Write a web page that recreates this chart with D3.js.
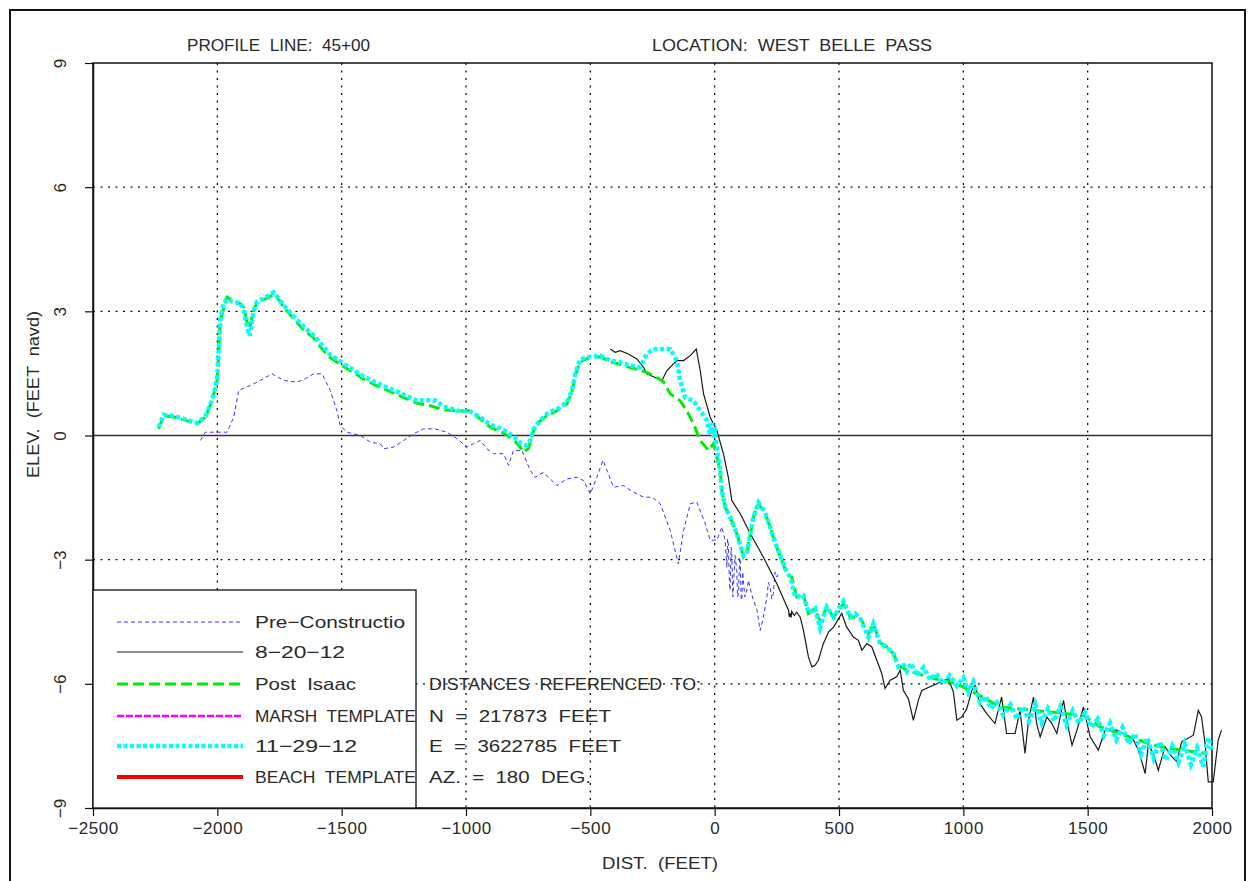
<!DOCTYPE html>
<html>
<head>
<meta charset="utf-8">
<script src="https://cdn.jsdelivr.net/npm/d3@7"></script>
<style>
  body { margin: 0; background: #fff; }
  text { font-family: "Liberation Sans", Arial, sans-serif; fill: #2a2a2a; }
</style>
</head>
<body>
<div id="chart"></div>
<script>
// profile survey data: [distance (ft), elevation (ft navd)]
var preConstruction = [[-2068,-0.12],[-2048,0.08],[-1961,0.08],[-1934,0.44],[-1914,1.09],[-1867,1.21],[-1827,1.33],[-1780,1.49],[-1733,1.33],[-1680,1.29],[-1646,1.37],[-1613,1.49],[-1579,1.49],[-1546,1.09],[-1519,0.6],[-1506,0.24],[-1479,0.08],[-1425,0],[-1385,-0.16],[-1345,-0.2],[-1331,-0.32],[-1291,-0.28],[-1251,-0.12],[-1211,0.04],[-1171,0.16],[-1124,0.16],[-1077,0.08],[-1036,-0.08],[-996,-0.28],[-970,-0.2],[-943,-0.12],[-916,-0.32],[-889,-0.44],[-849,-0.44],[-829,-0.72],[-809,-0.36],[-775,-0.36],[-742,-0.84],[-722,-1.01],[-688,-0.89],[-634,-1.21],[-594,-1.05],[-554,-1.01],[-527,-1.09],[-500,-1.41],[-474,-1.01],[-449,-0.6],[-433,-0.84],[-407,-1.25],[-367,-1.21],[-326,-1.37],[-286,-1.49],[-252,-1.49],[-219,-1.65],[-179,-2.29],[-146,-3.1],[-125,-2.29],[-98,-1.65],[-72,-1.61],[-38,-2.13],[-18,-2.53],[9,-2.53],[29,-2.21],[42,-2.53],[49,-3.18],[52,-2.5],[55,-2.61],[59,-3.5],[62,-3.74],[66,-2.7],[69,-2.86],[73,-3.9],[76,-3.58],[82,-2.9],[89,-3.26],[92,-3.9],[96,-3.82],[100,-2.95],[103,-3.02],[106,-3.9],[109,-3.98],[113,-3.3],[116,-3.58],[122,-3.9],[129,-3.74],[136,-3.5],[143,-3.7],[156,-3.98],[170,-4.22],[183,-4.71],[196,-4.39],[210,-3.9],[216,-3.55],[223,-3.66],[230,-3.95],[236,-3.82],[243,-3.3],[250,-3.42],[256,-3.34]];

var survey082012 = [[-420,2.09],[-400,2.01],[-380,2.05],[-347,1.97],[-313,1.85],[-286,1.65],[-273,1.49],[-212,1.33],[-192,1.57],[-166,1.73],[-152,1.81],[-125,1.81],[-98,1.93],[-74,2.09],[-58,1.57],[-45,1.01],[-18,0.44],[9,0.12],[35,-0.44],[55,-1.01],[69,-1.57],[103,-1.89],[143,-2.37],[196,-2.94],[250,-3.58],[297,-4.22],[300,-4.38],[304,-4.3],[307,-4.4],[310,-4.25],[320,-4.35],[330,-4.27],[344,-4.39],[357,-4.71],[377,-5.35],[391,-5.59],[404,-5.55],[417,-5.43],[437,-5.03],[458,-4.75],[478,-4.63],[511,-4.3],[531,-4.63],[558,-4.87],[578,-4.95],[592,-5.19],[612,-5.03],[632,-5.11],[652,-5.43],[672,-5.75],[685,-6.11],[706,-5.91],[732,-5.83],[746,-5.67],[759,-6.16],[779,-6.36],[799,-6.88],[819,-6.4],[833,-6.16],[940,-5.87],[960,-6.2],[974,-6.88],[994,-6.8],[1014,-6.6],[1034,-6.16],[1047,-6.04],[1067,-6.48],[1094,-6.72],[1127,-6.96],[1154,-6.32],[1174,-7.2],[1208,-7.2],[1228,-6.64],[1248,-7.68],[1262,-6.88],[1282,-6.32],[1295,-6.96],[1309,-7.28],[1336,-6.8],[1356,-6.96],[1376,-7.2],[1403,-6.4],[1416,-6.88],[1437,-7.48],[1457,-7.12],[1483,-6.56],[1510,-7.28],[1543,-7.6],[1570,-7.12],[1617,-7.12],[1657,-7.24],[1681,-7.32],[1704,-7.6],[1724,-8.01],[1731,-8.17],[1744,-7.48],[1764,-7.68],[1784,-8.09],[1811,-7.52],[1838,-7.76],[1858,-7.88],[1878,-7.4],[1925,-7.24],[1945,-6.64],[1958,-6.8],[1972,-7.44],[1985,-8.37],[2005,-8.37],[2025,-7.36],[2038,-7.12]];

var postIsaac = [[-2236,0.16],[-2216,0.48],[-2169,0.44],[-2122,0.36],[-2082,0.28],[-2048,0.44],[-2021,0.84],[-2001,1.33],[-1995,1.97],[-1988,2.78],[-1961,3.34],[-1934,3.26],[-1907,3.18],[-1894,3.1],[-1881,2.75],[-1870,2.6],[-1854,3.02],[-1840,3.22],[-1807,3.3],[-1774,3.4],[-1760,3.34],[-1733,3.1],[-1693,2.82],[-1653,2.55],[-1613,2.36],[-1573,2.05],[-1546,1.88],[-1506,1.72],[-1452,1.52],[-1412,1.36],[-1358,1.2],[-1304,1.06],[-1251,0.92],[-1197,0.78],[-1144,0.72],[-1090,0.62],[-1036,0.6],[-983,0.6],[-943,0.4],[-902,0.2],[-849,0.06],[-809,-0.1],[-782,-0.28],[-769,-0.4],[-749,-0.32],[-728,0.12],[-708,0.32],[-675,0.48],[-634,0.6],[-594,0.76],[-574,1.05],[-561,1.45],[-541,1.78],[-500,1.89],[-460,1.9],[-420,1.78],[-380,1.72],[-340,1.64],[-300,1.58],[-259,1.49],[-206,1.3],[-179,1.01],[-139,0.84],[-112,0.6],[-85,0.28],[-58,-0.12],[-25,-0.36],[-5,-0.2],[9,-0.52],[22,-0.84],[29,-1.33],[42,-1.73],[62,-1.97],[89,-2.37],[116,-2.94],[129,-2.86],[156,-1.97],[176,-1.65],[203,-1.89],[223,-2.21],[243,-2.61],[270,-3.02],[290,-3.34],[310,-3.42],[330,-3.9],[357,-3.86],[377,-4.3],[404,-4.18],[424,-4.5],[451,-4.14],[478,-4.39],[518,-4.06],[545,-4.39],[585,-4.39],[618,-4.8],[638,-4.55],[665,-5.0],[692,-5.11],[719,-5.27],[739,-5.55],[773,-5.67],[813,-5.75],[866,-5.85],[920,-5.92],[974,-6.0],[1040,-6.2],[1100,-6.4],[1150,-6.56],[1282,-6.64],[1416,-6.72],[1483,-6.76],[1550,-7.04],[1630,-7.2],[1700,-7.35],[1791,-7.52],[1872,-7.6],[1979,-7.68]];

var survey112912 = [[-2236,0.2],[-2216,0.5],[-2169,0.46],[-2122,0.38],[-2082,0.3],[-2048,0.46],[-2021,0.86],[-2001,1.36],[-1995,2.0],[-1988,2.8],[-1975,3.2],[-1961,3.3],[-1934,3.22],[-1907,3.2],[-1894,3.05],[-1881,2.62],[-1870,2.41],[-1854,3.0],[-1840,3.24],[-1807,3.33],[-1774,3.46],[-1760,3.36],[-1733,3.14],[-1693,2.88],[-1653,2.63],[-1613,2.42],[-1573,2.15],[-1546,1.95],[-1506,1.79],[-1452,1.58],[-1412,1.43],[-1358,1.26],[-1304,1.13],[-1251,0.99],[-1197,0.84],[-1144,0.86],[-1120,0.84],[-1090,0.7],[-1036,0.6],[-983,0.58],[-943,0.44],[-902,0.26],[-849,0.14],[-809,-0.02],[-782,-0.18],[-755,-0.24],[-742,-0.12],[-728,0.16],[-702,0.36],[-668,0.56],[-634,0.64],[-594,0.8],[-574,1.09],[-561,1.49],[-541,1.84],[-500,1.9],[-460,1.93],[-420,1.81],[-380,1.77],[-340,1.69],[-300,1.65],[-286,1.81],[-273,1.97],[-246,2.09],[-179,2.09],[-152,1.81],[-139,1.33],[-119,0.92],[-85,0.84],[-58,0.6],[-31,0.36],[-20,0.05],[-11,0.3],[-4,-0.05],[0,0.2],[5,-0.15],[9,-0.3],[22,-0.84],[29,-1.33],[42,-1.73],[62,-1.97],[89,-2.37],[116,-2.9],[129,-2.86],[156,-1.97],[176,-1.62],[203,-1.86],[223,-2.21],[243,-2.58],[270,-3.0],[290,-3.3],[304,-3.42],[324,-3.9],[357,-3.86],[377,-4.28],[404,-4.18],[424,-4.65],[451,-4.14],[478,-4.39],[518,-4.0],[545,-4.39],[565,-4.3],[585,-4.42],[618,-4.87],[638,-4.55],[665,-5.03],[692,-5.11],[719,-5.27],[739,-5.59],[760,-5.55],[773,-5.7],[790,-5.5],[813,-5.8],[840,-5.6],[866,-5.9],[890,-5.75],[920,-6.0],[945,-5.8],[974,-6.05],[1000,-5.85],[1020,-6.2],[1040,-5.95],[1067,-6.45],[1090,-6.3],[1110,-6.6],[1134,-6.45],[1160,-6.75],[1190,-6.5],[1215,-6.85],[1240,-6.55],[1265,-6.9],[1290,-6.5],[1315,-6.95],[1340,-6.6],[1365,-6.9],[1390,-6.55],[1415,-7.0],[1440,-6.65],[1465,-6.95],[1490,-6.7],[1515,-7.05],[1540,-6.85],[1565,-7.25],[1590,-6.95],[1615,-7.35],[1640,-7.05],[1665,-7.45],[1690,-7.2],[1715,-7.7],[1740,-7.3],[1765,-7.8],[1790,-7.4],[1815,-7.85],[1840,-7.5],[1865,-7.9],[1890,-7.45],[1915,-7.95],[1940,-7.55],[1965,-8.0],[1985,-7.3],[2000,-7.6]];

var xTicks = [-2500, -2000, -1500, -1000, -500, 0, 500, 1000, 1500, 2000];
var yTicks = [-9, -6, -3, 0, 3, 6, 9];

var legendLabels = ["Pre\u2212Constructio", "8\u221220\u221212", "Post  Isaac", "MARSH  TEMPLATE", "11\u221229\u221212", "BEACH  TEMPLATE"];
var refLabels = ["DISTANCES  REFERENCED  TO:", "N  =  217873  FEET", "E  =  3622785  FEET", "AZ.  =  180  DEG."];

var svgWidth = 1255;
var svgHeight = 881;

var margin = { top: 63, right: 43, bottom: 73, left: 93 };
var width = svgWidth - margin.left - margin.right;
var height = svgHeight - margin.top - margin.bottom;

var svg = d3.select("#chart")
  .append("svg")
  .attr("width", svgWidth)
  .attr("height", svgHeight);

// page frame
svg.append("rect")
  .attr("x", 10).attr("y", 10)
  .attr("width", 1235).attr("height", 885)
  .attr("fill", "none").attr("stroke", "#111").attr("stroke-width", 2);

var chartGroup = svg.append("g")
  .attr("transform", `translate(${margin.left}, ${margin.top})`);

var xScale = d3.scaleLinear().domain([-2500, 2000]).range([0, width]);
var yScale = d3.scaleLinear().domain([-9, 9]).range([height, 0]);

// dotted grid
chartGroup.append("g").selectAll("line")
  .data(xTicks.slice(1, -1))
  .enter().append("line")
  .attr("x1", d => xScale(d)).attr("x2", d => xScale(d))
  .attr("y1", 0).attr("y2", height)
  .attr("stroke", "#111").attr("stroke-width", 1.3)
  .attr("stroke-dasharray", "2,5.5");

chartGroup.append("g").selectAll("line")
  .data(yTicks.filter(d => d !== 0 && Math.abs(d) !== 9))
  .enter().append("line")
  .attr("x1", 0).attr("x2", width)
  .attr("y1", d => yScale(d)).attr("y2", d => yScale(d))
  .attr("stroke", "#111").attr("stroke-width", 1.3)
  .attr("stroke-dasharray", "2,5.5");

// zero line
chartGroup.append("line")
  .attr("x1", 0).attr("x2", width)
  .attr("y1", yScale(0)).attr("y2", yScale(0))
  .attr("stroke", "#333").attr("stroke-width", 1.3);

// axes
var bottomAxis = d3.axisBottom(xScale).tickValues(xTicks).tickFormat(d3.format("d"))
  .tickSize(8).tickSizeOuter(0);
var leftAxis = d3.axisLeft(yScale).tickValues(yTicks).tickFormat(d3.format("d"))
  .tickSize(8).tickSizeOuter(0);

var xAxis = chartGroup.append("g")
  .attr("transform", `translate(0, ${height})`)
  .call(bottomAxis);
xAxis.selectAll("text")
  .attr("y", 14)
  .style("font-size", "17px")
  .style("letter-spacing", "0.6px");

var yAxis = chartGroup.append("g").call(leftAxis);
yAxis.selectAll("text")
  .attr("x", 0).attr("y", 0).attr("dy", "0.36em")
  .attr("transform", "translate(-33,0) rotate(-90)")
  .attr("text-anchor", "middle")
  .style("font-size", "17px");

chartGroup.selectAll(".domain").attr("stroke", "#111").attr("stroke-width", 1.5);
chartGroup.selectAll(".tick line").attr("stroke", "#111").attr("stroke-width", 1.2);

// plot frame (top and right)
chartGroup.append("rect")
  .attr("x", 0).attr("y", 0).attr("width", width).attr("height", height)
  .attr("fill", "none").attr("stroke", "#111").attr("stroke-width", 1.5);

// legend box
var legendTop = 590 - margin.top;
var legendRight = 416 - margin.left;
chartGroup.append("rect")
  .attr("x", 0).attr("y", legendTop)
  .attr("width", legendRight).attr("height", height - legendTop)
  .attr("fill", "#fff").attr("stroke", "#111").attr("stroke-width", 1.3);

// series
var line = d3.line().x(d => xScale(d[0])).y(d => yScale(d[1]));

var series = [
  { label: legendLabels[0], data: preConstruction, color: "#3535ff", width: 1, dash: "4,3" },
  { label: legendLabels[1], data: survey082012, color: "#1a1a1a", width: 1.2, dash: null },
  { label: legendLabels[2], data: postIsaac, color: "#00ee00", width: 3, dash: "11,5" },
  { label: legendLabels[3], data: null, color: "#ff00ff", width: 2.5, dash: "7,2" },
  { label: legendLabels[4], data: survey112912, color: "#00ffff", width: 4.5, dash: "4,2.5" },
  { label: legendLabels[5], data: null, color: "#ff0000", width: 4, dash: null }
];

series.forEach(function(s) {
  if (!s.data) return;
  chartGroup.append("path")
    .datum(s.data)
    .attr("d", line)
    .attr("fill", "none")
    .attr("stroke", s.color)
    .attr("stroke-width", s.width)
    .attr("stroke-dasharray", s.dash);
});

// legend entries
var legendRows = [622, 652, 684, 716, 746, 777];
series.forEach(function(s, i) {
  var y = legendRows[i] - margin.top;
  chartGroup.append("line")
    .attr("x1", 117 - margin.left).attr("x2", 243 - margin.left)
    .attr("y1", y).attr("y2", y)
    .attr("stroke", s.color)
    .attr("stroke-width", s.width)
    .attr("stroke-dasharray", s.dash);
});

var legendWidths = [150, 90, 101, 161, 102, 161];
chartGroup.append("g").selectAll("text")
  .data(legendLabels)
  .enter().append("text")
  .attr("x", 255 - margin.left)
  .attr("y", (d, i) => legendRows[i] - margin.top)
  .attr("dy", "0.36em")
  .attr("xml:space", "preserve")
  .attr("textLength", (d, i) => legendWidths[i])
  .attr("lengthAdjust", "spacingAndGlyphs")
  .style("font-size", "17px")
  .text(d => d);

var refWidths = [272, 182, 192, 162];
chartGroup.append("g").selectAll("text")
  .data(refLabels)
  .enter().append("text")
  .attr("x", 429 - margin.left)
  .attr("y", (d, i) => legendRows[i + 2] - margin.top)
  .attr("dy", "0.36em")
  .attr("xml:space", "preserve")
  .attr("textLength", (d, i) => refWidths[i])
  .attr("lengthAdjust", "spacingAndGlyphs")
  .style("font-size", "17px")
  .text(d => d);

// titles and axis labels
svg.append("text")
  .attr("x", 187).attr("y", 51)
  .attr("xml:space", "preserve")
  .attr("textLength", 183).attr("lengthAdjust", "spacingAndGlyphs")
  .style("font-size", "17px")
  .text("PROFILE  LINE:  45+00");

svg.append("text")
  .attr("x", 652).attr("y", 51)
  .attr("xml:space", "preserve")
  .attr("textLength", 280).attr("lengthAdjust", "spacingAndGlyphs")
  .style("font-size", "17px")
  .text("LOCATION:  WEST  BELLE  PASS");

svg.append("text")
  .attr("x", 602).attr("y", 869)
  .attr("xml:space", "preserve")
  .attr("textLength", 116).attr("lengthAdjust", "spacingAndGlyphs")
  .style("font-size", "17px")
  .text("DIST.  (FEET)");

svg.append("text")
  .attr("transform", "translate(39, 478) rotate(-90)")
  .attr("xml:space", "preserve")
  .attr("textLength", 167).attr("lengthAdjust", "spacingAndGlyphs")
  .style("font-size", "17px")
  .text("ELEV.  (FEET  navd)");
</script>
</body>
</html>
